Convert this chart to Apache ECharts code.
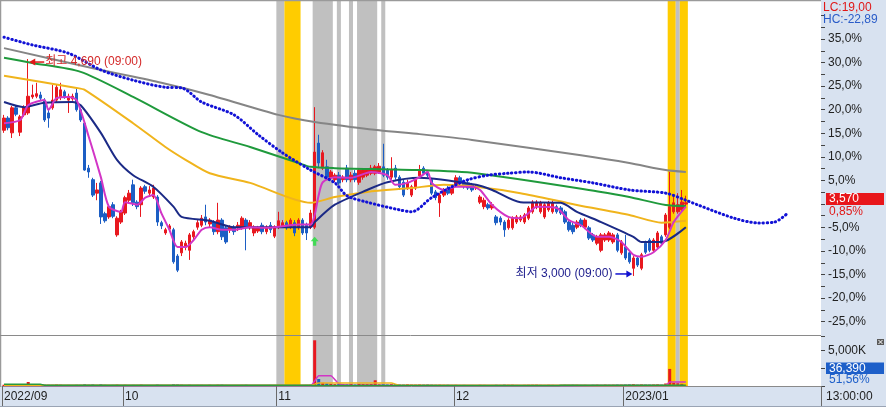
<!DOCTYPE html>
<html><head><meta charset="utf-8">
<script src="https://cdn.jsdelivr.net/npm/echarts@6/dist/echarts.min.js"></script>
<style>html,body{margin:0;padding:0;background:#fff}#c{width:886px;height:407px}</style>
</head><body><div id="c"></div>
<script>
// ---- categories (240-min bars, 2 per trading day) ----
const monthTable = [['2022/09',30],['10',38],['11',44],['12',42],['2023/01',16]];
const futureSlots = 33;

// ---- candles [open, close, low, high] ----
const sepCandles = [
[4135,4230,4115,4255],[4230,4155,4135,4245],[4115,4310,4075,4325],[4310,4260,4245,4325],[4120,4240,4090,4255],
[4255,4310,4240,4330],[4270,4400,4255,4690],[4395,4410,4380,4490],[4400,4420,4385,4505],[4410,4385,4370,4435],
[4370,4215,4200,4385],[4270,4230,4155,4295],[4310,4370,4295,4490],[4370,4470,4355,4495],[4395,4450,4370,4505],
[4435,4395,4380,4450],[4370,4400,4270,4420],[4380,4400,4365,4420],[4425,4295,4280,4465],[4295,4215,4200,4310],
[4190,3825,3820,4205],[3840,3810,3765,3865],[3750,3630,3615,3765],[3645,3670,3590,3725],[3725,3460,3405,3740],
[3485,3430,3415,3500],[3460,3540,3445,3555],[3555,3465,3450,3575],[3320,3450,3305,3465],[3420,3500,3405,3515]];
const octCandles = [
[3490,3610,3475,3625],[3590,3645,3575,3670],[3710,3570,3545,3750],[3575,3540,3520,3590],[3555,3685,3460,3700],
[3695,3660,3640,3710],[3645,3670,3625,3700],[3615,3685,3600,3710],[3615,3420,3390,3630],[3415,3390,3365,3430],
[3335,3360,3320,3375],[3365,3390,3345,3405],[3360,3110,3095,3375],[3155,3045,3030,3170],[3180,3265,3155,3280],
[3225,3255,3200,3275],[3200,3320,3125,3335],[3305,3345,3280,3360],[3380,3415,3360,3435],[3395,3450,3380,3475],
[3460,3420,3395,3555],[3405,3435,3380,3450],[3420,3345,3320,3435],[3345,3435,3325,3570],[3435,3305,3280,3450],
[3375,3265,3250,3390],[3360,3380,3335,3395],[3380,3345,3320,3395],[3375,3395,3350,3420],[3375,3450,3360,3465],
[3435,3375,3200,3450],[3375,3415,3360,3435],[3335,3380,3310,3395],[3350,3375,3335,3390],[3395,3345,3325,3415],
[3345,3380,3325,3395],[3395,3360,3335,3420],[3310,3375,3295,3395]];
const novCandles = [
[3380,3430,3365,3500],[3380,3415,3375,3435],[3415,3375,3360,3430],[3380,3435,3365,3450],[3415,3335,3310,3435],
[3380,3435,3360,3450],[3435,3335,3320,3450],[3395,3335,3280,3415],[3380,3490,3365,3515],[3380,3965,3365,4315],
[4035,3880,3840,4100],[3840,3960,3825,3980],[3850,3770,3750,3905],[3765,3810,3750,3825],[3750,3785,3730,3800],
[3785,3725,3710,3810],[3750,3770,3730,3785],[3840,3750,3730,3865],[3750,3785,3730,3810],[3800,3750,3730,3825],
[3730,3825,3710,3840],[3770,3825,3750,3840],[3785,3825,3770,3840],[3800,3840,3785,3865],[3800,3850,3785,3865],
[3810,3855,3795,3880],[3850,3785,3770,4030],[3825,3770,3750,3840],[3770,3825,3750,3925],[3840,3770,3750,3865],
[3770,3695,3670,3785],[3730,3630,3615,3750],[3685,3725,3670,3750],[3630,3695,3615,3710],[3685,3750,3670,3765],
[3780,3825,3765,3865],[3840,3800,3785,3855],[3810,3785,3770,3825],[3750,3645,3630,3765],[3655,3610,3590,3670],
[3570,3630,3460,3645],[3630,3670,3615,3685],[3685,3645,3630,3700],[3645,3685,3630,3700]];
const decCandles = [
[3710,3765,3695,3785],[3765,3725,3710,3780],[3730,3695,3680,3750],[3725,3685,3670,3740],[3710,3670,3655,3725],
[3685,3695,3670,3710],[3575,3615,3560,3630],[3540,3590,3520,3610],[3555,3530,3515,3570],[3530,3555,3515,3575],
[3460,3415,3395,3475],[3450,3420,3395,3465],[3420,3360,3305,3435],[3375,3435,3360,3450],[3375,3450,3360,3465],
[3420,3460,3405,3475],[3435,3460,3420,3475],[3420,3475,3405,3490],[3450,3530,3435,3545],[3500,3575,3485,3590],
[3540,3575,3520,3590],[3500,3570,3485,3585],[3460,3555,3445,3570],[3515,3570,3500,3585],[3500,3570,3485,3590],
[3540,3500,3485,3555],[3530,3490,3475,3545],[3500,3420,3405,3515],[3420,3360,3345,3435],[3395,3345,3325,3415],
[3380,3420,3365,3435],[3435,3395,3380,3450],[3380,3435,3365,3450],[3375,3295,3280,3390],[3320,3280,3265,3335],
[3255,3305,3240,3320],[3200,3320,3185,3335],[3280,3320,3265,3335],[3280,3335,3265,3350],[3265,3320,3250,3335],
[3320,3200,3185,3335],[3180,3265,3165,3280]];
const janCandles = [
[3225,3140,3125,3320],[3180,3110,3095,3195],[3060,3140,3000,3155],[3140,3085,3070,3155],[3060,3165,3045,3180],
[3255,3185,3170,3275],[3280,3200,3185,3295],[3200,3280,3185,3295],[3225,3335,3210,3350],[3305,3255,3240,3320],
[3320,3475,3305,3490],[3380,3540,3365,3810],[3500,3570,3485,3615],[3500,3555,3485,3645],[3515,3575,3500,3670],
[3560,3570,3545,3625]];

// ---- volume (thousand shares) ----
const sepVolK = [180,150,210,130,170,140,560,220,190,150,200,170,160,210,180,140,150,130,170,160,260,180,230,150,250,170,140,160,190,150];
const octVolK = [170,140,160,150,190,130,120,140,200,150,120,130,250,220,180,140,170,130,150,160,140,170,130,180,190,150,130,120,140,160,180,130,120,140,130,120,150,140];
const novVolK = [160,130,140,120,150,130,140,150,170,6400,980,450,380,300,260,280,250,240,280,220,300,260,250,270,800,240,230,220,260,250,230,210,240,200,190,220,210,230,200,180,190,170,180,160];
const decVolK = [170,150,160,140,150,130,170,160,140,150,180,160,200,170,180,150,140,160,170,180,190,160,150,170,160,140,150,170,160,180,170,150,160,140,170,180,160,190,170,180,200,190];
const janVolK = [210,230,260,180,220,200,190,210,230,180,350,2390,420,380,300,36.39];

// ---- moving-average lines: [barIndex, price] ----
const ma5 = [[0,4190],[4,4215],[6,4330],[10,4370],[11,4295],[13,4385],[16,4395],[18,4370],[21,4085],[24,3770],[26,3540],[29,3500],[30,3575],[33,3555],[35,3610],[37,3630],[39,3490],[41,3360],[43,3225],[45,3225],[47,3280],[49,3360],[51,3380],[54,3360],[57,3360],[61,3380],[65,3375],[73,3400],[76,3400],[77,3475],[78,3630],[79,3730],[82,3770],[86,3765],[91,3810],[95,3785],[97,3710],[100,3725],[103,3770],[105,3810],[106,3725],[109,3670],[112,3695],[116,3695],[118,3670],[121,3553],[125,3460],[128,3450],[130,3490],[132,3540],[137,3530],[140,3435],[143,3395],[147,3305],[150,3305],[153,3265],[156,3165],[158,3150],[161,3185],[164,3280],[166,3420],[169,3540]];
const ma20 = [[0,4355],[5,4315],[10,4350],[17,4355],[19,4330],[24,4115],[28,3905],[32,3785],[37,3695],[42,3540],[44,3460],[51,3430],[57,3380],[76,3380],[77,3420],[82,3555],[90,3670],[95,3730],[103,3765],[117,3710],[121,3670],[128,3575],[138,3570],[142,3500],[148,3420],[156,3305],[158,3265],[163,3265],[169,3380]];
const ma60 = [[0,4560],[18,4465],[20,4450],[32,4190],[40,4005],[45,3905],[51,3800],[61,3725],[76,3570],[82,3615],[90,3655],[101,3685],[109,3710],[117,3695],[128,3645],[142,3553],[155,3475],[163,3415],[169,3430]];
const ma120 = [[0,4700],[7,4660],[19,4590],[32,4395],[49,4120],[61,4005],[73,3880],[76,3850],[82,3840],[103,3825],[117,3800],[148,3655],[155,3615],[164,3553],[169,3545]];
const ma240 = [[0,4775],[24,4605],[39,4505],[51,4410],[68,4255],[77,4200],[93,4135],[103,4105],[116,4060],[143,3940],[155,3880],[164,3825],[169,3810]];
const leadSpan = [[0,4860],[7,4800],[16,4735],[24,4605],[32,4525],[40,4470],[44,4465],[49,4355],[57,4255],[63,4100],[69,3960],[76,3825],[82,3725],[85,3625],[90,3575],[98,3515],[101,3500],[106,3610],[111,3695],[115,3750],[120,3785],[125,3800],[130,3810],[138,3765],[146,3725],[155,3670],[164,3645],[169,3590],[172,3553],[181,3450],[187,3413],[191,3420],[194,3483]];
const volMa5K = [[0,60],[76,60],[77,700],[78,1430],[81,1430],[83,300],[86,90],[112,70],[164,70],[165,560],[169,560]];
const volMa20K = [[0,90],[76,90],[78,430],[96,430],[98,100],[110,110],[140,110],[154,60],[169,60]];
const volMa60K = [[0,240],[9,230],[10,120],[76,110],[77,60],[137,60],[138,110],[169,110]];

// ---- highlighted periods [firstBar, endBar(exclusive), kind 0=gray 1=yellow] ----
const bands = [[68,70,0],[70,74,1],[77,82,0],[83,84,0],[86,87,0],[88,93,0],[94,95,0],[165,167,1],[167,168,0],[168,170,1]];
const signalUp = [[77,3270]];
const highMark = {idx:6, price:4690, text:'최고 4,690 (09:00)'};
const lowMark = {idx:156, price:3000, text:'최저 3,000 (09:00)'};
const pctTicks = {min:-27.5, max:42.5, step:2.5};

// ---------------- build ----------------
const candles = [...sepCandles, ...octCandles, ...novCandles, ...decCandles, ...janCandles];
const volK = [...sepVolK, ...octVolK, ...novVolK, ...decVolK, ...janVolK];
const categories = [];
const monthStarts = new Set();
monthTable.forEach(([lab,n]) => { monthStarts.add(categories.length); for (let k=0;k<n;k++) categories.push(lab+'|'+k); });
for (let k=0;k<futureSlots;k++) categories.push('|f'+k);

const UP='#e8181f', DN='#1c5ec4';
const bandColors=['#c0c0c0','#ffcc00'];
const volData = volK.map((v,i)=>({value:v*1000,itemStyle:{color: candles[i][1]>=candles[i][0]?UP:DN}}));
const toShares = arr => arr.map(([i,v])=>[i,v*1000]);

const FONT='"Liberation Sans","Noto Sans CJK KR",sans-serif';
const chart = echarts.init(document.getElementById('c'), null, {renderer:'canvas'});
const lineS = (data,color,w,z) => ({type:'line',xAxisIndex:0,yAxisIndex:0,data,showSymbol:false,symbol:'none',smooth:0.25,
  lineStyle:{color,width:w},z:z||4,silent:true});
const vLine = (data,color,z) => ({type:'line',xAxisIndex:1,yAxisIndex:1,data:toShares(data),symbol:'none',smooth:0.15,
  lineStyle:{color,width:1.5},z:z,silent:true});

chart.setOption({
  animation:false,
  textStyle:{fontFamily:FONT},
  grid:[
    {left:2,top:0,width:819,height:335},
    {left:2,top:336,width:819,height:50},
    {left:2,top:3.7,width:819,height:329.7}
  ],
  xAxis:[
    {type:'category',gridIndex:0,data:categories,boundaryGap:true,show:false},
    {type:'category',gridIndex:1,data:categories,boundaryGap:true,
      axisLine:{show:true,lineStyle:{color:'#8a8a8a'}},
      axisTick:{show:true,interval:(i)=>monthStarts.has(i),length:21,lineStyle:{color:'#6a6a6a'}},
      axisLabel:{show:true,interval:(i)=>monthStarts.has(i),formatter:(v)=>v.split('|')[0],align:'left',
        color:'#222',fontSize:12,margin:5,fontFamily:FONT},
      splitLine:{show:false}},
    {type:'category',gridIndex:2,data:categories,boundaryGap:true,show:false}
  ],
  yAxis:[
    {type:'value',gridIndex:0,min:2540,max:5150,show:false,splitLine:{show:false}},
    {type:'value',gridIndex:1,position:'right',min:0,max:7000000,interval:2500000,
      axisLine:{show:false},axisTick:{show:true,length:4,lineStyle:{color:'#444'}},splitLine:{show:false},
      axisLabel:{margin:7,color:'#222',fontSize:12,formatter:(v)=>v===5000000?'5,000K':''}},
    {type:'value',gridIndex:2,position:'right',min:pctTicks.min,max:pctTicks.max,interval:pctTicks.step,
      axisLine:{show:false},axisTick:{show:true,length:4,lineStyle:{color:'#444'}},splitLine:{show:false},
      axisLabel:{margin:7,color:'#222',fontSize:12,showMinLabel:false,showMaxLabel:false,
        formatter:(v)=>{const r=Math.round(v*10)/10; if (r%5!==0||r===0||r>35||r<-25) return ''; return r.toFixed(1).replace('.',',')+'%';}}}
  ],
  series:[
    {type:'custom',xAxisIndex:0,yAxisIndex:0,data:bands,clip:false,silent:true,z:1,
      encode:{x:[0,1],y:2},
      renderItem:(params,api)=>{
        const s=api.value(0), e=api.value(1);
        const w=api.size([1,0])[0];
        const x0=api.coord([s,3000])[0]-w/2, x1=api.coord([e-1,3000])[0]+w/2;
        const cs=params.coordSys;
        return {type:'rect',shape:{x:x0,y:cs.y+1,width:x1-x0,height:386-cs.y-1},style:{fill:bandColors[api.value(2)]}};
      }},
    {type:'candlestick',xAxisIndex:0,yAxisIndex:0,data:candles,barWidth:3,z:3,silent:true,
      itemStyle:{color:UP,color0:DN,borderColor:UP,borderColor0:DN,borderWidth:1}},
    lineS(ma240,'#858585',2),
    lineS(ma120,'#1f9a3c',2),
    lineS(ma60,'#f0b41c',2),
    lineS(ma20,'#1b2a86',2),
    lineS(ma5,'#d235c6',2),
    {type:'line',xAxisIndex:0,yAxisIndex:0,data:leadSpan,symbol:'none',smooth:0.3,z:5,silent:true,
      lineStyle:{color:'#1212d6',width:3,type:[0.5,3.6],cap:'round'}},
    {type:'scatter',xAxisIndex:0,yAxisIndex:0,data:signalUp,z:6,silent:true,
      symbol:'path://M5,0 L10,5 L7,5 L7,10 L3,10 L3,5 L0,5 Z',symbolSize:[8,9],itemStyle:{color:'#22e03a'}},
    {type:'bar',xAxisIndex:1,yAxisIndex:1,data:volData,barWidth:3,z:3,silent:true},
    vLine(volMa5K,'#d235c6',4),
    vLine(volMa20K,'#f0b41c',5),
    vLine(volMa60K,'#2a9a3c',6)
  ]
});

// ---- decorations & annotations ----
const PANEL='#d8e2f0';
const hi = chart.convertToPixel({gridIndex:0},[highMark.idx,highMark.price]);
const lo = chart.convertToPixel({gridIndex:0},[lowMark.idx,lowMark.price]);
const txt = (x,y,text,fill,align) => ({type:'text',x,y,z:60,
  style:{text,fill,font:'12px '+FONT,textAlign:align||'left',align:align||'left',textVerticalAlign:'middle',verticalAlign:'middle'}});
const hy = hi[1]+3, ly = lo[1]-2;
const g = [
  {type:'rect',z:-10,shape:{x:821,y:0,width:65,height:387},style:{fill:PANEL}},
  {type:'rect',z:-10,shape:{x:0,y:387,width:886,height:20},style:{fill:PANEL}},
  {type:'line',z:50,shape:{x1:0,y1:0.5,x2:821,y2:0.5},style:{stroke:'#9a9a9a',lineWidth:1.5}},
  {type:'line',z:50,shape:{x1:0.5,y1:0,x2:0.5,y2:387},style:{stroke:'#9a9a9a',lineWidth:1.5}},
  {type:'line',z:50,shape:{x1:0,y1:335.5,x2:821,y2:335.5},style:{stroke:'#8a8a8a',lineWidth:1}},
  {type:'line',z:50,shape:{x1:0,y1:406.5,x2:886,y2:406.5},style:{stroke:'#9aa4b4',lineWidth:1}},
  txt(823,7.5,'LC:19,00','#e01818'),
  txt(823,19.5,'HC:-22,89','#2a5cc8'),
  {type:'rect',z:55,shape:{x:826,y:193,width:58,height:12},style:{fill:'#e8161b'}},
  txt(829,199,'3,570','#ffffff'),
  txt(829,211.5,'0,85%','#e01818'),
  {type:'rect',z:55,shape:{x:826,y:362.5,width:58,height:11.5},style:{fill:'#1d5fc9'}},
  txt(829,368.5,'36,390','#ffffff'),
  txt(829,380,'51,56%','#1d5fc9'),
  {type:'rect',z:55,shape:{x:877,y:339,width:7,height:6},style:{fill:'#5a5a5a'}},
  {type:'line',z:56,shape:{x1:878.5,y1:340,x2:882.5,y2:344},style:{stroke:'#fff',lineWidth:1}},
  {type:'line',z:56,shape:{x1:882.5,y1:340,x2:878.5,y2:344},style:{stroke:'#fff',lineWidth:1}},
  txt(826,397,'13:00:00','#222'),
  // high annotation
  {type:'polygon',z:60,shape:{points:[[hi[0]+1,hy],[hi[0]+7,hy-3.5],[hi[0]+7,hy+3.5]]},style:{fill:'#e01818'}},
  {type:'line',z:60,shape:{x1:hi[0]+6,y1:hy,x2:hi[0]+16,y2:hy},style:{stroke:'#e01818',lineWidth:1.5}},
  txt(hi[0]+17,hy,highMark.text,'#d42a2a'),
  // low annotation
  {type:'polygon',z:60,shape:{points:[[lo[0]-1,ly],[lo[0]-7,ly-3.5],[lo[0]-7,ly+3.5]]},style:{fill:'#1010d0'}},
  {type:'line',z:60,shape:{x1:lo[0]-18,y1:ly,x2:lo[0]-6,y2:ly},style:{stroke:'#1010d0',lineWidth:1.5}},
  txt(lo[0]-21,ly,lowMark.text,'#1c1c8c','right')
];
chart.setOption({graphic:g});
</script></body></html>
